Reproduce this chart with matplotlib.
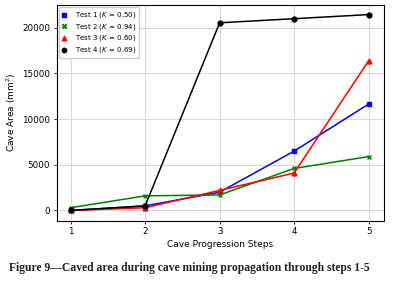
import numpy as np
import matplotlib
matplotlib.use('Agg')
import matplotlib.pyplot as plt

# data
steps = [1, 2, 3, 4, 5]
test1 = [0, 500, 2000, 6500, 11650]
test2 = [300, 1600, 1700, 4600, 5900]
test3 = [0, 300, 2200, 4100, 16400]
test4 = [0, 500, 20550, 21000, 21450]
labels = ['Test 1 ($K$ = 0.50)', 'Test 2 ($K$ = 0.94)',
          'Test 3 ($K$ = 0.60)', 'Test 4 ($K$ = 0.69)']
x_ticks = [1, 2, 3, 4, 5]
y_ticks = [0, 5000, 10000, 15000, 20000]

fig = plt.figure(figsize=(3.96, 2.83), dpi=100)
ax = fig.add_axes([56.5 / 396, 62.5 / 283, 327 / 396, 215.5 / 283])

series = [test1, test2, test3, test4]
colors = ['blue', 'green', 'red', 'black']
markers = ['s', 'x', '^', 'o']
for vals, c, m, lab in zip(series, colors, markers, labels):
    ax.plot(steps, vals, color=c, linewidth=1.1, marker=m, markersize=3.5,
            markeredgewidth=1, zorder=3)
    ax.scatter([], [], color=c, marker=m, s=10, label=lab)

ax.set_xlim(0.81, 5.2)
ax.set_ylim(-1100, 22500)
ax.set_xticks(x_ticks)
ax.set_yticks(y_ticks)
ax.tick_params(labelsize=6.3, length=2.5, width=0.6, pad=2)
ax.grid(True, color='#d0d0d0', linewidth=0.6)
for s in ax.spines.values():
    s.set_linewidth(0.8)
ax.set_xlabel('Cave Progression Steps', fontsize=6.5, labelpad=3)
ax.set_ylabel('Cave Area (mm$^2$)', fontsize=6.5, labelpad=3)
ax.legend(loc='upper left', fontsize=5.0, handlelength=0.8, handletextpad=1.2,
          borderpad=0.4, labelspacing=0.25, scatterpoints=1, framealpha=1,
          borderaxespad=0.3)

fig.text(9 / 396, 1 - 268 / 283,
         'Figure 9\u2014Caved area during cave mining propagation through steps 1-5',
         fontsize=8.4, fontweight='bold', family='Liberation Serif',
         color='#222222', va='center', ha='left')

fig.savefig('out.png', dpi=100)
